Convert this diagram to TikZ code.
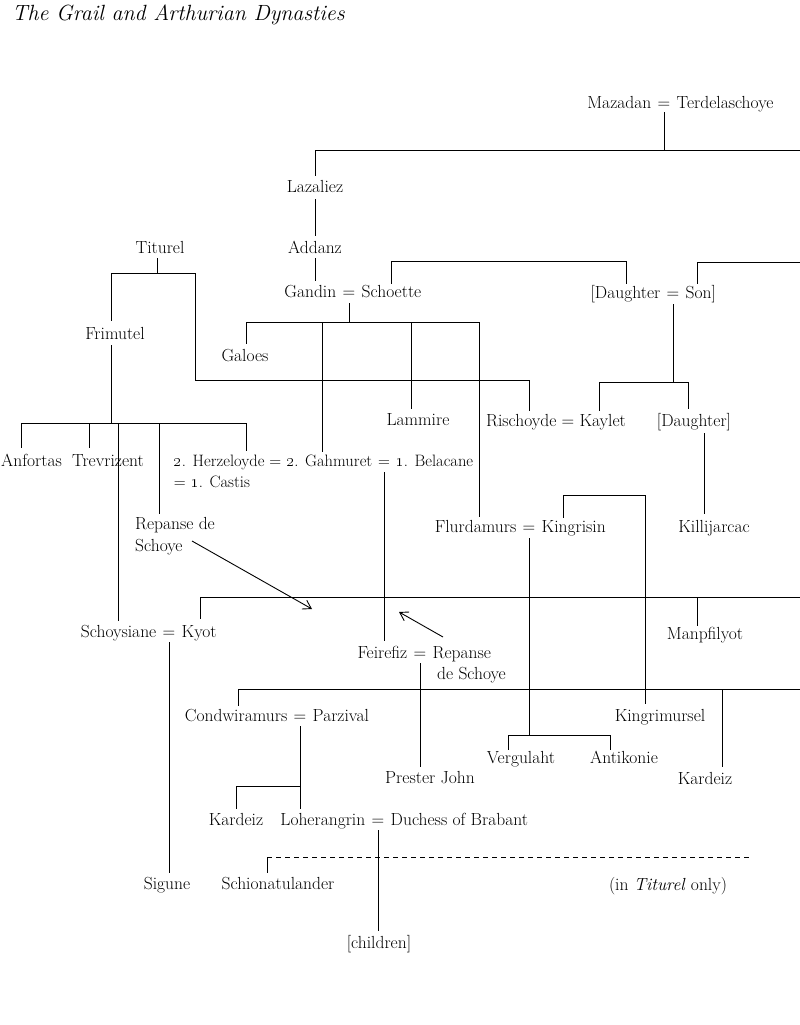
\documentclass[tikz,border=0pt]{standalone}
\usetikzlibrary{arrows.meta}
\newcommand\osn[1]{\oldstylenums{#1}}
\begin{document}
\begin{tikzpicture}[x=1pt,y=-1pt,
  every node/.style={inner sep=0pt, font=\fontsize{17.5}{21}\selectfont},
  lbl/.style={anchor=base west},
  rlbl/.style={anchor=base east},
  cen/.style={anchor=base},
  small/.style={font=\fontsize{16.5}{20}\selectfont},
  ln/.style={line width=1pt, line cap=rect},
  arr/.style={line width=0.9pt, -{Straight Barb[length=8pt,width=10pt]}},
  dsh/.style={line width=1pt, dash pattern=on 5pt off 4pt}]
\useasboundingbox (0,0) rectangle (800,1025);

% ---------- title ----------
\node[lbl] (title) at (12,21) {\fontsize{22}{26}\selectfont\itshape The Grail and Arthurian Dynasties};

% ---------- names ----------
\node[rlbl] (mazadan) at (651.5,108) {Mazadan};
\node[cen]  (eqMT)    at (664,108) {=};
\node[lbl]  (terdel)  at (676.5,108) {Terdelaschoye};

\node[cen] (lazaliez) at (315,192) {Lazaliez};
\node[cen] (addanz)   at (315,253) {Addanz};
\node[cen] (titurel)  at (160,253) {Titurel};

\node[rlbl] (gandin)   at (336.5,297) {Gandin};
\node[cen]  (eqGS)     at (349,297) {=};
\node[lbl]  (schoette) at (361.5,297) {Schoette};

\node[rlbl] (daughterA) at (660.5,298) {[Daughter};
\node[cen]  (eqDS)      at (673,298) {=};
\node[lbl]  (son)       at (685.5,298) {Son]};

\node[cen] (frimutel) at (115,339) {Frimutel};
\node[cen] (galoes)   at (245,361) {Galoes};
\node[cen] (lammire)  at (418,425) {Lammire};
\node[cen] (rischoyde) at (556,426) {Rischoyde = Kaylet};
\node[cen] (daughterB) at (694,426) {[Daughter]};

\node[cen] (anfortas)   at (31.5,466) {Anfortas};
\node[lbl] (trevrizent) at (72,466) {Trevrizent};
\node[rlbl,small] (herz) at (372.5,466) {\osn{2}. Herzeloyde = \osn{2}. Gahmuret};
\node[cen,small]  (eqGB) at (384,466) {=};
\node[lbl,small]  (belacane) at (395.5,466) {\osn{1}. Belacane};
\node[lbl,small]  (castis) at ([yshift=-21pt]herz.base west) {= \osn{1}. Castis};

\node[lbl] (repanseA) at (135,529) {Repanse de};
\node[lbl] (repanseB) at (135,551) {Schoye};

\node[rlbl] (flurdamurs) at (516.5,532) {Flurdamurs};
\node[cen]  (eqFK)       at (529,532) {=};
\node[lbl]  (kingrisin)  at (541.5,532) {Kingrisin};
\node[cen]  (killijarcac) at (714,532) {Killijarcac};

\node[rlbl] (schoysiane) at (156.5,637) {Schoysiane};
\node[cen]  (eqSK)       at (169,637) {=};
\node[lbl]  (kyot)       at (181.5,637) {Kyot};
\node[cen]  (manpfilyot) at (705,639) {Manpfilyot};

\node[rlbl] (feirefiz) at (407.5,658) {Feirefiz};
\node[cen]  (eqFR)     at (420,658) {=};
\node[lbl]  (repanseC) at (432.5,658) {Repanse};
\node[lbl]  (repanseD) at (437,679) {de Schoye};

\node[rlbl] (condwiramurs) at (287.5,721) {Condwiramurs};
\node[cen]  (eqCP)         at (300,721) {=};
\node[lbl]  (parzival)     at (312.5,721) {Parzival};
\node[cen]  (kingrimursel) at (660,721) {Kingrimursel};

\node[cen] (vergulaht) at (521,763) {Vergulaht};
\node[cen] (antikonie) at (624,763) {Antikonie};
\node[cen] (prester)   at (430,783) {Prester John};
\node[cen] (kardeizR)  at (705,784) {Kardeiz};

\node[cen]  (kardeizL)    at (236,825) {Kardeiz};
\node[rlbl] (loherangrin) at (365.5,825) {Loherangrin};
\node[cen]  (eqLD)        at (378,825) {=};
\node[lbl]  (duchess)     at (390.5,825) {Duchess of Brabant};

\node[cen] (sigune)  at (167,889) {Sigune};
\node[cen] (schion)  at (278,889) {Schionatulander};
\node[cen] (titonly) at (668,890) {(in \textit{Titurel} only)};
\node[cen] (children) at (379,948) {[children]};

% ---------- connectors ----------
% Mazadan
\draw[ln] (664,112) -- (664,150);
\draw[ln] (315,175) -- (315,150) -- (800,150);
\draw[ln] (315,199) -- (315,235);
\draw[ln] (315,258) -- (315,280);
% Gandin = Schoette
\draw[ln] (349,303) -- (349,322);
\draw[ln] (246,343) -- (246,322) -- (479,322);
\draw[ln] (322,322) -- (322,451);
\draw[ln] (411,322) -- (411,408);
\draw[ln] (479,322) -- (479,516);
\draw[ln] (391,283) -- (391,261) -- (626,261) -- (626,283);
% Daughter = Son
\draw[ln] (697,283) -- (697,262) -- (800,262);
\draw[ln] (673,304) -- (673,382);
\draw[ln] (599,410) -- (599,382) -- (688,382) -- (688,408);
\draw[ln] (704,433) -- (704,513);
% Titurel
\draw[ln] (157,258) -- (157,273);
\draw[ln] (111,320) -- (111,273) -- (195,273) -- (195,380) -- (529,380) -- (529,410);
% Frimutel
\draw[ln] (111,345) -- (111,423);
\draw[ln] (21,447) -- (21,423) -- (246,423) -- (246,450);
\draw[ln] (89,423) -- (89,447);
\draw[ln] (118,423) -- (118,620);
\draw[ln] (159,423) -- (159,513);
% Gahmuret = Belacane
\draw[ln] (384,472) -- (384,640);
% arrows
\draw[arr] (192,541) -- (312,609);
\draw[arr] (443,637) -- (399,612);
% bar 597
\draw[ln] (200,618) -- (200,597) -- (800,597);
\draw[ln] (697,597) -- (697,625);
% Schoysiane = Kyot
\draw[ln] (169,642) -- (169,872);
% Kingrisin
\draw[ln] (563,517) -- (563,495) -- (645,495) -- (645,703);
\draw[ln] (529,538) -- (529,735);
\draw[ln] (508,749) -- (508,735) -- (610,735) -- (610,749);
% Feirefiz
\draw[ln] (420,663) -- (420,766);
% bar 689
\draw[ln] (238,705) -- (238,689) -- (800,689);
\draw[ln] (722,689) -- (722,766);
% Condwiramurs = Parzival
\draw[ln] (300,726) -- (300,808);
\draw[ln] (236,808) -- (236,786) -- (300,786);
% Loherangrin
\draw[ln] (378,830) -- (378,930);
% Titurel only
\draw[ln] (267,872) -- (267,857);
\draw[dsh] (267,857) -- (750,857);
\end{tikzpicture}
\end{document}
